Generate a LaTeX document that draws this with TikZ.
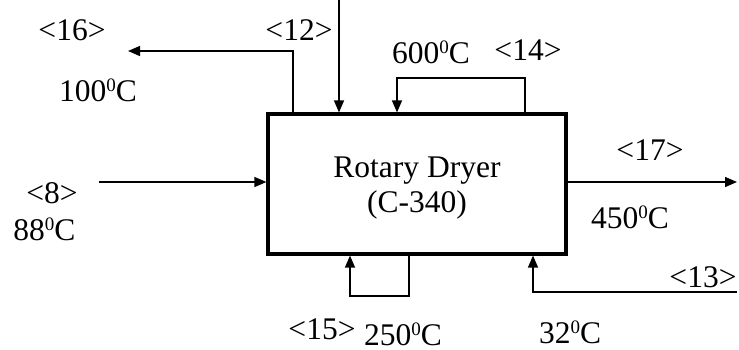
\documentclass[tikz,border=0pt]{standalone}
\usepackage{fontspec}
\setmainfont{Liberation Serif}
\usetikzlibrary{arrows.meta}
\tikzset{
  flow/.style={line width=0.7pt,-{Triangle[length=6pt,width=5pt]}},
  tag/.style={anchor=base,inner sep=0pt,font=\fontsize{15.75}{19}\selectfont}
}
\newcommand{\degc}[1]{#1\raisebox{5pt}{\fontsize{9.5}{9.5}\selectfont 0}C}

\begin{document}
\begin{tikzpicture}[x=0.5pt,y=-0.5pt]
\useasboundingbox (0,0) rectangle (739,349);
\node[draw,line width=1.6pt,minimum width=149pt,minimum height=70pt,inner sep=0pt] (dryer) at (417,184) {};
\node[tag] (name) at (417,177) {Rotary Dryer};
\node[tag] (code) at (417,212) {(C-340)};

\coordinate (s12) at (339,0);
\coordinate (s16a) at (293,51);
\coordinate (s16) at (128,51);
\coordinate (s14a) at (525,78);
\coordinate (s14b) at (397,78);
\coordinate (s17) at (737,182);
\coordinate (s8) at (99,182);
\coordinate (s15a) at (409,296);
\coordinate (s15b) at (350,296);
\coordinate (s13a) at (737,292);
\coordinate (s13b) at (533,292);

\draw[flow] (s12) -- (s12 |- dryer.north);
\draw[flow] (s16a |- dryer.north) -- (s16a) -- (s16);
\draw[flow] (s14a |- dryer.north) -- (s14a) -- (s14b) -- (s14b |- dryer.north);
\draw[flow] (dryer.east |- s17) -- (s17);
\draw[flow] (s8) -- (s8 -| dryer.west);
\draw[flow] (s15a |- dryer.south) -- (s15a) -- (s15b) -- (s15b |- dryer.south);
\draw[flow] (s13a) -- (s13b) -- (s13b |- dryer.south);

\foreach \n/\x/\y/\t in {n16/72/40/{<16>}, n12/299/40/{<12>}, t16/98/101/{\degc{100}},
  t14/431/63/{\degc{600}}, n14/528/60/{<14>}, n17/650/160/{<17>}, t17/630/228/{\degc{450}},
  n8/52/203/{<8>}, t8/44.5/240/{\degc{88}}, n15/322/339/{<15>}, t15/403/345/{\degc{250}},
  t13/570/343/{\degc{32}}, n13/703/287/{<13>}}{
  \node[tag] (\n) at (\x,\y) {\t};
}
\end{tikzpicture}
\end{document}
